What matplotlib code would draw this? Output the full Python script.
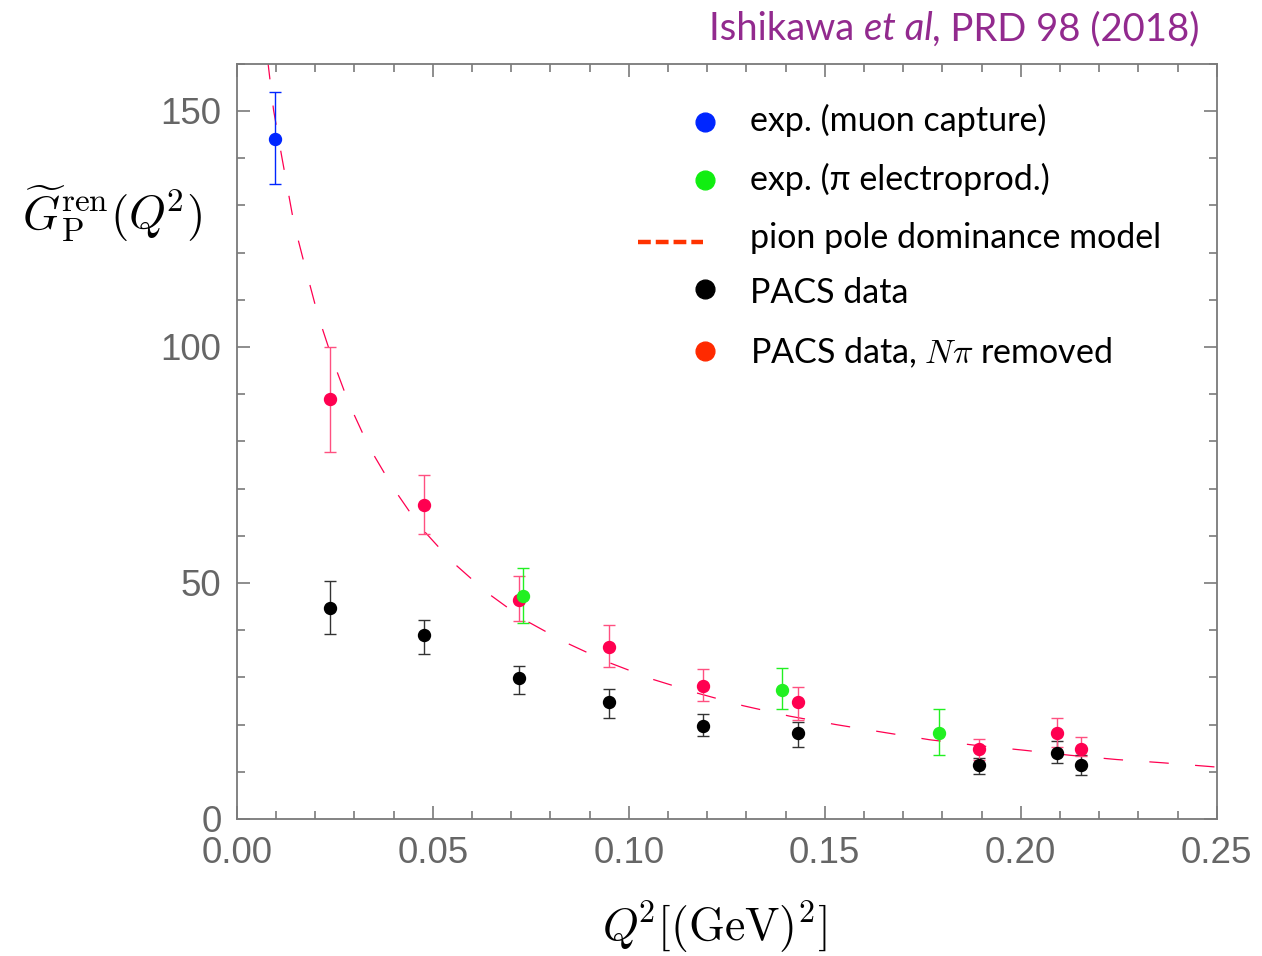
import matplotlib
matplotlib.use("Agg")
import matplotlib.pyplot as plt
from matplotlib.ticker import MultipleLocator, FormatStrFormatter
from matplotlib.lines import Line2D

plt.rcParams['mathtext.fontset'] = 'cm'
plt.rcParams['lines.scale_dashes'] = False

# ---------------- data ----------------
# exp. muon capture
q2_mu = [0.0098]
gp_mu = [144.0]
gp_mu_hi = [154.1]
gp_mu_lo = [134.5]

# exp. pi electroproduction
q2_pi = [0.0731, 0.1392, 0.1792]
gp_pi = [47.3, 27.3, 18.2]
gp_pi_hi = [53.1, 31.9, 23.2]
gp_pi_lo = [41.5, 23.3, 13.5]

# PACS data
q2_pacs = [0.0239, 0.0478, 0.0721, 0.0950, 0.1190, 0.1431, 0.1893, 0.2093, 0.2154]
gp_pacs = [44.8, 39.0, 29.8, 24.8, 19.8, 18.2, 11.4, 14.0, 11.4]
gp_pacs_hi = [50.4, 42.2, 32.5, 27.5, 22.3, 20.5, 13.0, 16.6, 13.6]
gp_pacs_lo = [39.2, 35.0, 26.5, 21.5, 17.6, 15.3, 9.6, 11.9, 9.4]

# PACS data, N pi removed
gp_npi = [88.9, 66.5, 46.5, 36.4, 28.2, 24.8, 14.8, 18.2, 14.8]
gp_npi_hi = [99.9, 72.9, 51.5, 41.0, 31.7, 28.0, 16.9, 21.4, 17.3]
gp_npi_lo = [77.7, 60.4, 41.9, 32.1, 24.9, 21.0, 12.6, 15.2, 13.3]

# pion pole dominance model
q2_ppd = [0.0079, 0.0094, 0.0115, 0.0146, 0.0176, 0.0207, 0.0245, 0.0286, 0.0337,
          0.0398, 0.0466, 0.0547, 0.0638, 0.0734, 0.0839, 0.0948, 0.1061, 0.1178,
          0.1292, 0.1410, 0.1529, 0.1647, 0.1767, 0.1886, 0.2005, 0.2126, 0.2245,
          0.2364, 0.2485, 0.2500]
gp_ppd = [160.8, 150.2, 140.3, 126.2, 116.5, 106.8, 97.2, 88.1, 78.9,
          70.3, 62.1, 54.7, 48.0, 42.2, 37.4, 33.2, 29.6, 26.6,
          24.0, 21.8, 20.0, 18.4, 16.8, 15.6, 14.6, 13.5, 12.6,
          11.9, 11.1, 11.0]

# legend labels
labels = ["exp. (muon capture)", "exp. (π electroprod.)", "pion pole dominance model",
          "PACS data", r"PACS data, $N\pi$ removed"]

# ---------------- figure ----------------
W, H = 1262, 956
fig = plt.figure(figsize=(W / 100, H / 100), dpi=100)
ax = fig.add_axes([236.7 / W, 1 - 819 / H, 980 / W, 755.2 / H])

RED = "#ff0050"
RED_EB = "#ff5080"
GREEN = "#22f022"
BLUE = "#0026ff"


def errs(v, hi, lo):
    return [[a - b for a, b in zip(v, lo)], [b - a for a, b in zip(v, hi)]]


ax.plot(q2_ppd, gp_ppd, color=RED, lw=0.9, dashes=(14, 19), zorder=2)

eb = dict(fmt='o', ms=8.6, capsize=4.6, elinewidth=1.0, capthick=1.0, zorder=3)
ax.errorbar(q2_pacs, gp_pacs, yerr=errs(gp_pacs, gp_pacs_hi, gp_pacs_lo),
            color='black', ecolor='#333333', **eb)
ax.errorbar(q2_pacs, gp_npi, yerr=errs(gp_npi, gp_npi_hi, gp_npi_lo),
            color=RED, ecolor=RED_EB, **eb)
ax.errorbar(q2_pi, gp_pi, yerr=errs(gp_pi, gp_pi_hi, gp_pi_lo),
            color=GREEN, ecolor=GREEN, **eb)
ax.errorbar(q2_mu, gp_mu, yerr=errs(gp_mu, gp_mu_hi, gp_mu_lo),
            color=BLUE, ecolor=BLUE, **eb)

ax.set_xlim(0, 0.25)
ax.set_ylim(0, 160)
ax.xaxis.set_major_locator(MultipleLocator(0.05))
ax.xaxis.set_minor_locator(MultipleLocator(0.01))
ax.yaxis.set_major_locator(MultipleLocator(50))
ax.yaxis.set_minor_locator(MultipleLocator(10))
ax.xaxis.set_major_formatter(FormatStrFormatter('%.2f'))
ax.yaxis.set_major_formatter(FormatStrFormatter('%d'))

GRAY = "#7a7a7a"
for s in ax.spines.values():
    s.set_color(GRAY)
    s.set_linewidth(1.3)
ax.tick_params(which='both', direction='in', top=True, right=True, color=GRAY,
               width=1.2, labelcolor='#666666', labelsize=26.5)
ax.tick_params(axis='x', pad=12)
ax.tick_params(axis='y', pad=11)
ax.tick_params(which='major', length=9.4)
ax.tick_params(which='minor', length=5.8)
for lab in ax.get_xticklabels() + ax.get_yticklabels():
    lab.set_family('Liberation Sans')

# axis labels
fig.text(112 / W, 1 - 214 / H, r"$\widetilde{G}_{\rm P}^{\rm ren}(Q^{\!2})$",
         fontsize=34, ha='center', va='center')
fig.text(715 / W, 1 - 927 / H, r"$Q^{\!2}[(\rm GeV)^2]$", fontsize=33,
         ha='center', va='center')

# title
title_parts = [("Ishikawa ", 'normal'), ("et al", 'italic'), (", PRD 98 (2018)", 'normal')]
PURPLE = "#922a8e"
renderer = fig.canvas.get_renderer()
tmp = []
total = 0.0
for txt, style in title_parts:
    t = fig.text(0, 0, txt, fontsize=27.5, color=PURPLE, family='Lato',
                 style=style, ha='left', va='baseline')
    total += t.get_window_extent(renderer=renderer).width
    tmp.append(t)
x0 = 1200 - total
for t in tmp:
    t.set_position((x0 / W, 1 - 40 / H))
    x0 += t.get_window_extent(renderer=renderer).width

# legend (manual)
marker_x = 705 / W
text_x = 750 / W
rows_marker_y = [121.7, 180.0, 241.7, 289.3, 351.0]
rows_text_y = [131.0, 190.0, 248.0, 303.0, 363.0]
leg_colors = [BLUE, "#11ee11", "#ff3300", "black", "#ff2a00"]
for i, (lab, c) in enumerate(zip(labels, leg_colors)):
    ym = 1 - rows_marker_y[i] / H
    if i == 2:
        fig.add_artist(Line2D([638 / W, 703 / W], [ym, ym], color=c, lw=3.2,
                              dashes=(9.2, 3.6), transform=fig.transFigure))
    else:
        fig.add_artist(Line2D([marker_x], [ym], marker='o', ms=13.5, color=c,
                              lw=0, transform=fig.transFigure))
    fig.text(text_x, 1 - rows_text_y[i] / H, lab, fontsize=24.5,
             family=['Lato', 'DejaVu Serif'], ha='left', va='baseline')

fig.savefig("out.png", dpi=100)
